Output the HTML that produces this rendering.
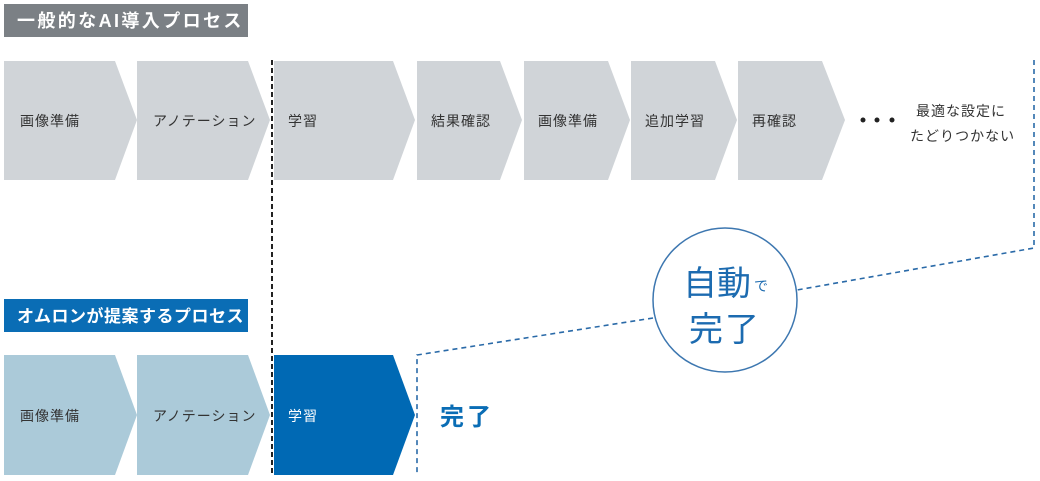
<!DOCTYPE html>
<html><head><meta charset="utf-8"><style>
html,body{margin:0;padding:0;background:#fff;}
svg{display:block;}
text{font-family:"Liberation Sans","Noto Sans CJK JP",sans-serif;}
</style></head><body>
<svg width="1040" height="481" viewBox="0 0 1040 481" xmlns="http://www.w3.org/2000/svg">
<rect x="4" y="4" width="244" height="33" fill="#7b8085"/>
<text x="17" y="27" font-size="18" font-weight="bold" fill="#fff" letter-spacing="2.4">一般的なAI導入プロセス</text>
<g fill="#d0d4d8">
<polygon points="4,61 115,61 137,120 115,180 4,180"/>
<polygon points="137,61 248,61 270,120 248,180 137,180"/>
<polygon points="274,61 393,61 415,120 393,180 274,180"/>
<polygon points="417,61 500,61 522,120 500,180 417,180"/>
<polygon points="524,61 608,61 630,120 608,180 524,180"/>
<polygon points="631,61 715,61 737,120 715,180 631,180"/>
<polygon points="738,61 822,61 845,120 822,180 738,180"/>
</g>
<g font-size="14" fill="#333" letter-spacing="1">
<text x="20" y="126">画像準備</text>
<text x="153" y="126">アノテーション</text>
<text x="288" y="126">学習</text>
<text x="431" y="126">結果確認</text>
<text x="538" y="126">画像準備</text>
<text x="645" y="126">追加学習</text>
<text x="752" y="126">再確認</text>
<text x="916" y="116">最適な設定に</text>
<text x="910" y="141">たどりつかない</text>
</g>
<circle cx="863" cy="120" r="2.5" fill="#222"/>
<circle cx="877" cy="120" r="2.5" fill="#222"/>
<circle cx="892" cy="120" r="2.5" fill="#222"/>
<rect x="4" y="299" width="244" height="33" fill="#0a6db5"/>
<text x="17" y="322" font-size="17" font-weight="bold" fill="#fff" letter-spacing="0.5">オムロンが提案するプロセス</text>
<polygon points="4,355 115,355 137,415 115,475 4,475" fill="#abcad9"/>
<polygon points="137,355 248,355 270,415 248,475 137,475" fill="#abcad9"/>
<polygon points="274,355 393,355 415,415 393,475 274,475" fill="#0069b4"/>
<g font-size="14" letter-spacing="1">
<text x="20" y="421" fill="#333">画像準備</text>
<text x="153" y="421" fill="#333">アノテーション</text>
<text x="288" y="421" fill="#fff">学習</text>
</g>
<text x="440" y="425" font-size="24" font-weight="bold" fill="#0a6db5" letter-spacing="3">完了</text>
<line x1="272" y1="60" x2="272" y2="476" stroke="#222" stroke-width="2" stroke-dasharray="5,3"/>
<g stroke="#2a6aa8" stroke-width="1.6" stroke-dasharray="5,4" fill="none">
<polyline points="1034,60 1034,248 797,290"/>
<polyline points="653,318 417,355 417,476"/>
</g>
<circle cx="725" cy="300" r="72" fill="#fff" stroke="#3d77b0" stroke-width="1.5"/>
<text x="683" y="295" font-size="34" fill="#1c6bb0">自動</text>
<text x="754" y="291" font-size="14" fill="#1c6bb0">で</text>
<text x="689" y="341" font-size="34" fill="#1c6bb0" letter-spacing="2">完了</text>
</svg>
</body></html>
